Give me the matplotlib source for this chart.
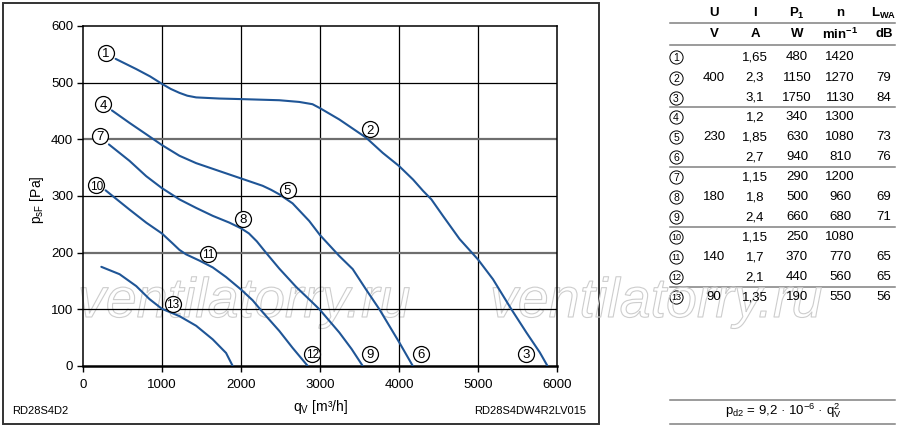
import matplotlib
matplotlib.use("Agg")
import matplotlib.pyplot as plt
import matplotlib.patheffects as pe
from matplotlib.patches import Rectangle

plt.rcParams['font.family'] = ['Liberation Sans', 'DejaVu Sans']
plt.rcParams['mathtext.fontset'] = 'custom'
plt.rcParams['mathtext.rm'] = 'Liberation Sans'
plt.rcParams['mathtext.it'] = 'Liberation Sans'
plt.rcParams['mathtext.bf'] = 'Liberation Sans:bold'

# curves: q_V [m3/h] and p_sF [Pa]
q_1_3 = [413, 674, 850, 998, 1110, 1221, 1320, 1432, 1726, 2000, 2484, 2737,
         2905, 3000, 3245, 3414, 3583, 3795, 4000, 4178, 4305, 4410, 4556,
         4767, 5000, 5190, 5423, 5613, 5782, 5880]
p_1_3 = [542, 524, 511, 498, 489, 482, 477, 474, 472, 471, 469, 466,
         462, 455, 435, 419, 403, 376, 353, 329, 309, 294, 265,
         224, 188, 153, 100, 59, 24, 0]

q_4_6 = [366, 589, 800, 998, 1221, 1432, 1726, 2000, 2274, 2380, 2484, 2653,
         2863, 3000, 3245, 3414, 3583, 3752, 4006, 4175]
p_4_6 = [451, 429, 409, 390, 371, 358, 344, 331, 318, 311, 303, 287,
         256, 231, 194, 171, 135, 100, 41, 0]

q_7_9 = [328, 589, 800, 998, 1221, 1432, 1642, 1853, 2000, 2100, 2200, 2316,
         2484, 2695, 2905, 3000, 3245, 3400, 3541]
p_7_9 = [391, 362, 335, 314, 294, 279, 265, 253, 243, 234, 220, 200,
         172, 140, 112, 99, 59, 30, 0]

q_10_12 = [286, 589, 800, 998, 1137, 1220, 1305, 1474, 1642, 1811, 2000, 2147,
           2274, 2484, 2653, 2845]
p_10_12 = [310, 276, 253, 234, 216, 205, 197, 186, 174, 157, 135, 116,
           95, 62, 32, 0]

q_13 = [232, 463, 674, 842, 998, 1221, 1432, 1642, 1811, 1895]
p_13 = [175, 162, 141, 118, 101, 88, 71, 47, 23, 0]

curves = [(q_1_3, p_1_3), (q_4_6, p_4_6), (q_7_9, p_7_9),
          (q_10_12, p_10_12), (q_13, p_13)]

# operating point numbers on the chart
point_ids = ['1', '2', '3', '4', '5', '6', '7', '8', '9', '10', '11', '12', '13']
point_q = [286, 3634, 5613, 253, 2589, 4283, 211, 2021, 3634, 168, 1579, 2905, 1137]
point_p = [553, 418, 22, 462, 311, 22, 406, 260, 22, 319, 198, 22, 110]

# table
col_U = ['', '400', '', '', '230', '', '', '180', '', '', '140', '', '90']
col_I = ['1,65', '2,3', '3,1', '1,2', '1,85', '2,7', '1,15', '1,8', '2,4',
         '1,15', '1,7', '2,1', '1,35']
col_P = ['480', '1150', '1750', '340', '630', '940', '290', '500', '660',
         '250', '370', '440', '190']
col_n = ['1420', '1270', '1130', '1300', '1080', '810', '1200', '960', '680',
         '1080', '770', '560', '550']
col_L = ['', '79', '84', '', '73', '76', '', '69', '71', '', '65', '65', '56']

head1 = ['U', 'I', r'$\mathbf{P_1}$', 'n', r'$\mathbf{L_{WA}}$']
head2 = ['V', 'A', 'W', r'$\mathbf{min^{-1}}$', 'dB']

fig = plt.figure(figsize=(9, 4.29), dpi=100)

# background layer in pixel coordinates: frame, watermark, table
ov = fig.add_axes([0, 0, 1, 1], facecolor='none')
ov.set_xlim(0, 900)
ov.set_ylim(429, 0)
ov.axis('off')

ax = fig.add_axes([83/900, 63/429, 474/900, 340/429], facecolor='none')

ov.add_patch(Rectangle((3, 3), 596, 421, fill=False, ec='#333333', lw=1.4))

for x0 in (78, 490):
    ov.text(x0, 317, 'ventilatorry.ru', ha='left', va='baseline', fontsize=40,
            style='italic', color=(1, 1, 1, 0),
            path_effects=[pe.Stroke(linewidth=0.8, foreground='#cdcdcd')])

blue = '#1f5596'
for q, p in curves:
    ax.plot(q, p, color=blue, lw=1.5, zorder=3, solid_capstyle='round')

ax.plot(point_q, point_p, 'o', ms=11.5, mfc='white', mec='black', mew=0.9, zorder=4)
for s, q, p in zip(point_ids, point_q, point_p):
    ax.text(q, p, s, ha='center', va='center_baseline',
            fontsize=9.5 if len(s) == 1 else 8.5, zorder=5)

ax.set_xlim(0, 6000)
ax.set_ylim(0, 600)
ax.set_xticks(range(0, 6001, 1000))
ax.set_yticks(range(0, 601, 100))
for v in range(1000, 6000, 1000):
    ax.axvline(v, color='black', lw=0.9, zorder=1)
for v in range(100, 600, 100):
    if v in (200, 400):
        ax.axhline(v, color='#6e6e6e', lw=1.6, zorder=1)
    else:
        ax.axhline(v, color='black', lw=0.9, zorder=1)
for side in ['left', 'right', 'top']:
    ax.spines[side].set_linewidth(1.1)
ax.spines['bottom'].set_linewidth(1.8)
ax.tick_params(direction='out', length=4, width=1, labelsize=9.5, pad=3)
ax.tick_params(axis='x', pad=5)

fig.text(320/900, 1 - 407/429, r'q$_\mathrm{V}$ [m³/h]', ha='center', va='center', fontsize=10)
fig.text(37/900, 1 - 200/429, r'p$_\mathrm{sF}$ [Pa]', ha='center', va='center',
         rotation=90, fontsize=10)
fig.text(12/900, 1 - 411/429, 'RD28S4D2', ha='left', va='center', fontsize=8)
fig.text(586/900, 1 - 411/429, 'RD28S4DW4R2LV015', ha='right', va='center', fontsize=8)

cols_x = [714, 755, 797, 840, 884]
for x, h1, h2 in zip(cols_x, head1, head2):
    ov.text(x, 13, h1, ha='center', va='center', fontsize=9.5, fontweight='bold')
    ov.text(x, 34, h2, ha='center', va='center', fontsize=9.5, fontweight='bold')

row_y = [57, 78, 98, 117, 137, 157, 177, 197, 217, 237, 257, 277, 297]
for i, y in enumerate(row_y):
    ov.plot(676, y, 'o', ms=9.5, mfc='white', mec='black', mew=0.7)
    ov.text(676, y, point_ids[i], ha='center', va='center_baseline',
            fontsize=7.5 if len(point_ids[i]) == 1 else 6.5)
    for x, col in zip(cols_x, [col_U, col_I, col_P, col_n, col_L]):
        ov.text(x, y, col[i], ha='center', va='center', fontsize=9.5)

for y in (23, 45, 107, 167, 227, 287, 400, 424):
    ov.plot([670, 895], [y, y], color='#808080', lw=1.1)

ov.text(783, 411, r'p$_\mathrm{d2}$ = 9,2 · 10$^{-6}$ · q$_\mathrm{V}^{2}$',
        ha='center', va='center', fontsize=9.5)

plt.savefig('out.png', dpi=100)
